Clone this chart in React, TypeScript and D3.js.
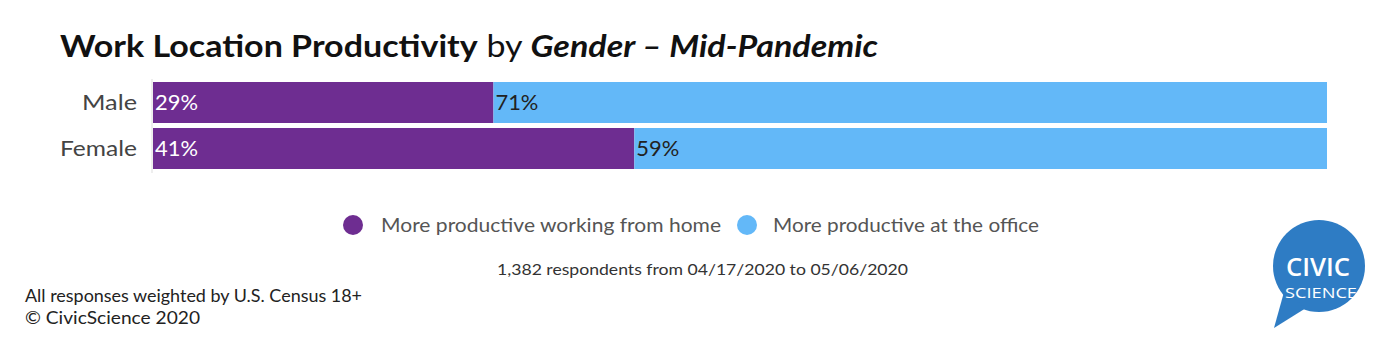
import React from "react";
import * as d3 from "d3";

const categories = ["Male", "Female"];
const homeValues = [29, 41];
const officeValues = [71, 59];
const seriesNames = ["More productive working from home", "More productive at the office"];
const seriesColors = ["#6E2D91", "#63B8F8"];

const FONT = "Lato, 'Open Sans', sans-serif";

export default function App() {
  const W = 1377, H = 360;
  const x = d3.scaleLinear().domain([0, 100]).range([153, 1327]);
  const y = d3.scaleBand().domain(categories).range([82, 169]).paddingInner(0.109).paddingOuter(0);
  const rows = categories.map((c, i) => ({ c, home: homeValues[i], office: officeValues[i] }));
  const catWidths = [55, 77];
  return (
    <svg width={W} height={H} style={{ position: "absolute", left: 0, top: 0, background: "#fff" }} fontFamily={FONT}>
      <text x={60} y={57} fontSize={31} fill="#111" textLength={818} lengthAdjust="spacingAndGlyphs">
        <tspan fontWeight="bold">Work Location Productivity</tspan>
        <tspan> by </tspan>
        <tspan fontWeight="bold" fontStyle="italic">Gender – Mid-Pandemic</tspan>
      </text>
      <line x1={152} x2={152} y1={79} y2={173} stroke="#ddd" strokeWidth={1} />
      {rows.map((r, i) => {
        const y0 = y(r.c)!;
        const bh = y.bandwidth();
        const base = y0 + bh / 2 + 7.5;
        return (
          <g key={r.c}>
            <rect x={x(0)} y={y0} width={x(r.home) - x(0)} height={bh} fill={seriesColors[0]} />
            <rect x={x(r.home)} y={y0} width={x(r.home + r.office) - x(r.home)} height={bh} fill={seriesColors[1]} />
            <text x={137} y={base} textAnchor="end" fontSize={21} fill="#444" textLength={catWidths[i]} lengthAdjust="spacingAndGlyphs">{r.c}</text>
            <text x={x(0) + 2} y={base} fontSize={21} fill="#fff" textLength={43} lengthAdjust="spacingAndGlyphs">{r.home}%</text>
            <text x={x(r.home) + 2} y={base} fontSize={21} fill="#222" textLength={43} lengthAdjust="spacingAndGlyphs">{r.office}%</text>
          </g>
        );
      })}
      <circle cx={353} cy={225} r={10} fill={seriesColors[0]} />
      <text x={381} y={232} fontSize={20} fill="#555" textLength={340} lengthAdjust="spacingAndGlyphs">{seriesNames[0]}</text>
      <circle cx={747} cy={225} r={10} fill={seriesColors[1]} />
      <text x={773} y={232} fontSize={20} fill="#555" textLength={266} lengthAdjust="spacingAndGlyphs">{seriesNames[1]}</text>
      <text x={497} y={275} fontSize={16} fill="#333" textLength={411} lengthAdjust="spacingAndGlyphs">1,382 respondents from 04/17/2020 to 05/06/2020</text>
      <text x={25} y={302} fontSize={17} fill="#222" textLength={337} lengthAdjust="spacingAndGlyphs">All responses weighted by U.S. Census 18+</text>
      <text x={25} y={324} fontSize={17} fill="#222" textLength={175} lengthAdjust="spacingAndGlyphs">© CivicScience 2020</text>
      <g>
        <circle cx={1319} cy={266} r={46} fill="#2E7CC4" />
        <path d="M1284,292 L1274,328 L1306,308 Z" fill="#2E7CC4" />
        <text x={1286} y={276} fontSize={26} fontWeight={600} fill="#fff" fontFamily="'Open Sans', sans-serif" textLength={64} lengthAdjust="spacingAndGlyphs">CIVIC</text>
        <text x={1285} y={298} fontSize={15} fill="#fff" fontFamily="'Open Sans', sans-serif" textLength={72} lengthAdjust="spacingAndGlyphs">SCIENCE</text>
      </g>
    </svg>
  );
}
